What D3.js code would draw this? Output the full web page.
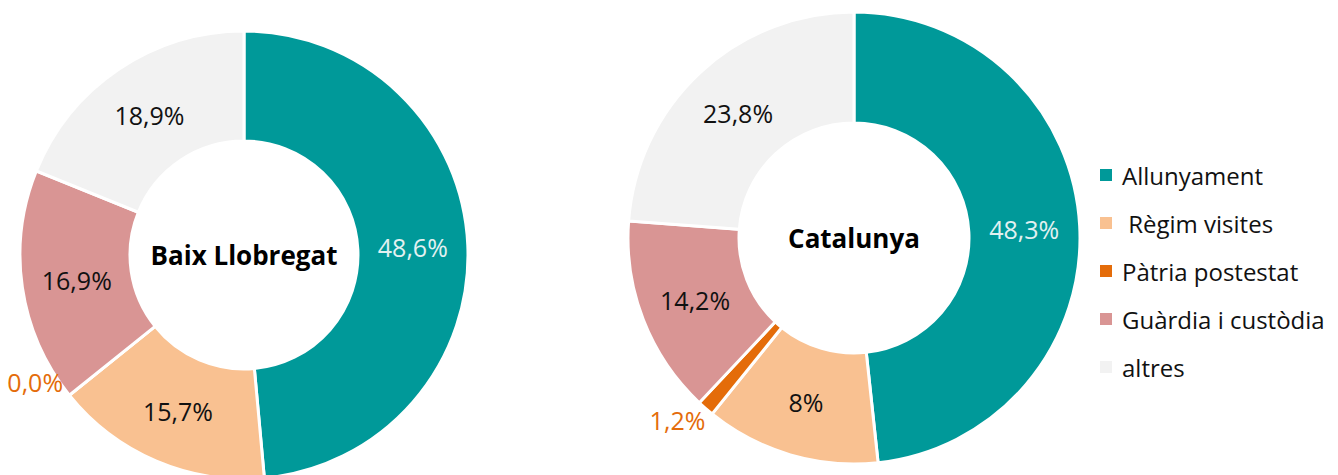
<!DOCTYPE html>
<html>
<head>
<meta charset="utf-8">
<script src="https://cdn.jsdelivr.net/npm/d3@7"></script>
<style>
    body { margin: 0; background: #ffffff; }
    text { font-family: "Open Sans", "Noto Sans", sans-serif; }
</style>
</head>
<body>
<svg id="drawing_region"></svg>
<script>
// categories and values
const categories = ['Allunyament', ' Règim visites', 'Pàtria postestat', 'Guàrdia i custòdia', 'altres'];
const colors = ['#009999', '#f9c191', '#e46c0a', '#d99594', '#f2f2f2'];

const baixValues = [48.6, 15.7, 0.0, 16.9, 18.9];
const baixLabels = ['48,6%', '15,7%', '0,0%', '16,9%', '18,9%'];

const catValues = [48.3, 12.5, 1.2, 14.2, 23.8];
const catLabels = ['48,3%', '8%', '1,2%', '14,2%', '23,8%'];

class DonutChart {

    constructor( config, values, labels ) {
        this.config = {
            parent: config.parent,
            cx: config.cx,
            cy: config.cy,
            outer: config.outer || 224,
            inner: config.inner || 114,
            title: config.title || '',
            outShift: config.outShift || [0, 0]
        }
        this.values = values;
        this.labels = labels;
        this.init();
    }

    init() {
        let self = this;

        self.chart = self.config.parent.append('g')
            .attr('transform', `translate(${self.config.cx}, ${self.config.cy})`);

        self.pie = d3.pie()
            .sort(null)
            .value( d => d.value );

        self.arc = d3.arc()
            .innerRadius( self.config.inner )
            .outerRadius( self.config.outer );
    }

    update() {
        let self = this;
        self.data = self.values.map( (v, i) => ({
            value: v, label: self.labels[i], color: colors[i], index: i
        }));
        self.render();
    }

    render() {
        let self = this;
        const arcs = self.pie( self.data );

        self.chart.selectAll('path')
            .data(arcs)
            .enter()
            .append('path')
            .attr('d', self.arc)
            .attr('fill', d => d.data.color)
            .attr('stroke', '#ffffff')
            .attr('stroke-width', 3);

        // labels inside the ring, small slices get an outside label
        const small = 2;
        self.chart.selectAll('.slice-label')
            .data(arcs)
            .enter()
            .append('text')
            .attr('class', 'slice-label')
            .attr('transform', d => {
                if (d.data.value < small) {
                    const a = (d.startAngle + d.endAngle) / 2;
                    const r = self.config.outer + 8;
                    const [sx, sy] = self.config.outShift;
                    return `translate(${Math.sin(a) * r + sx}, ${-Math.cos(a) * r + sy})`;
                }
                return `translate(${self.arc.centroid(d)})`;
            })
            .attr('text-anchor', d => d.data.value < small ? 'end' : 'middle')
            .attr('dominant-baseline', 'central')
            .style('font-size', '25px')
            .style('fill', d => {
                if (d.data.index === 0) return '#e2f1f1';
                if (d.data.index === 2) return '#e46c0a';
                return '#111111';
            })
            .text(d => d.data.label);

        self.chart.append('text')
            .attr('text-anchor', 'middle')
            .attr('dominant-baseline', 'central')
            .style('font-size', '26px')
            .style('font-weight', 'bold')
            .style('fill', '#000000')
            .text(self.config.title);
    }
}

const svg = d3.select('#drawing_region')
    .attr('width', 1338)
    .attr('height', 475);

svg.append('rect')
    .attr('width', 1338)
    .attr('height', 475)
    .attr('fill', '#ffffff');

const left_chart = new DonutChart({ parent: svg, cx: 244, cy: 255, outer: 224, inner: 114, title: 'Baix Llobregat', outShift: [0, -18] }, baixValues, baixLabels);
left_chart.update();

const right_chart = new DonutChart({ parent: svg, cx: 854, cy: 238, outer: 226, inner: 115, title: 'Catalunya', outShift: [5, 6] }, catValues, catLabels);
right_chart.update();

// legend
const legend = svg.append('g')
    .attr('transform', 'translate(1100, 175)');

const items = legend.selectAll('g')
    .data(categories)
    .enter()
    .append('g')
    .attr('transform', (d, i) => `translate(0, ${i * 48})`);

items.append('rect')
    .attr('x', 0)
    .attr('y', -6)
    .attr('width', 12)
    .attr('height', 12)
    .attr('fill', (d, i) => colors[i]);

items.append('text')
    .attr('x', 22)
    .attr('dominant-baseline', 'central')
    .style('font-size', '24px')
    .style('fill', '#111111')
    .style('white-space', 'pre')
    .text(d => d);
</script>
</body>
</html>
